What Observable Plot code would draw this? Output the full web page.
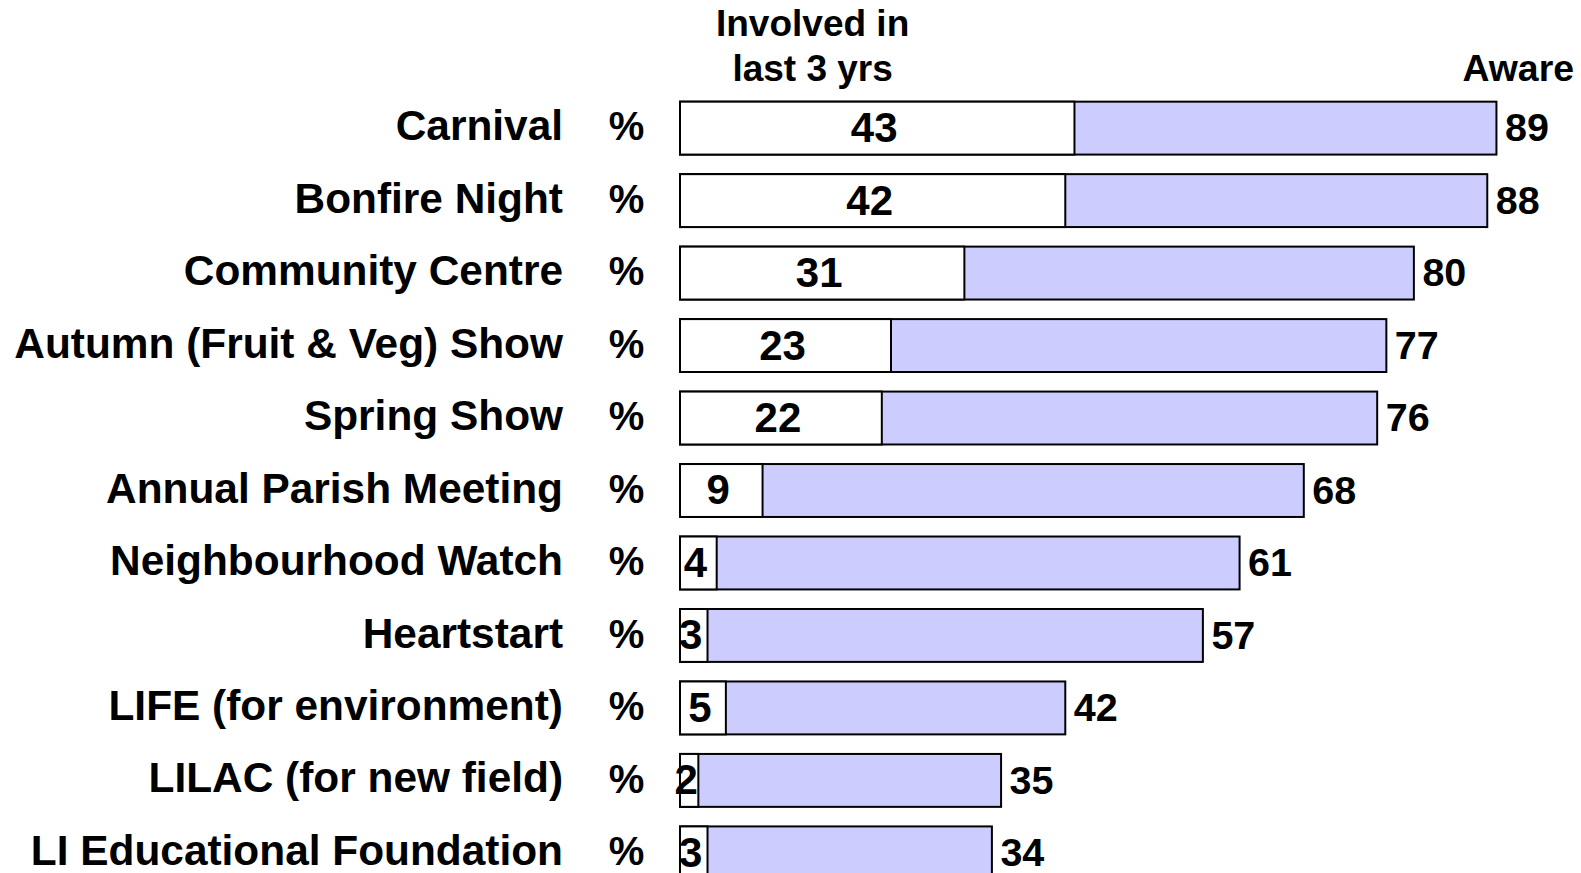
<!DOCTYPE html>
<html>
<head>
<meta charset="utf-8">
<script src="https://cdn.jsdelivr.net/npm/d3@7"></script>
<script src="https://cdn.jsdelivr.net/npm/@observablehq/plot@0.6"></script>
<style>
  html, body { margin: 0; padding: 0; background: #fff; overflow: hidden; }
  #chart svg { overflow: visible; }
  #chart svg, #chart svg text { font-family: "Liberation Sans", Arial, Helvetica, sans-serif !important; }
</style>
</head>
<body>
<div id="chart"></div>
<script>
const categories = [
  "Carnival",
  "Bonfire Night",
  "Community Centre",
  "Autumn (Fruit & Veg) Show",
  "Spring Show",
  "Annual Parish Meeting",
  "Neighbourhood Watch",
  "Heartstart",
  "LIFE (for environment)",
  "LILAC (for new field)",
  "LI Educational Foundation"
];
const involved = [43, 42, 31, 23, 22, 9, 4, 3, 5, 2, 3];
const aware = [89, 88, 80, 77, 76, 68, 61, 57, 42, 35, 34];
const headerInvolved = "Involved in\nlast 3 yrs";
const headerAware = "Aware";

const rows = categories.map((c, i) => ({cat: c, involved: involved[i], aware: aware[i]}));
const font = "Liberation Sans, Arial, Helvetica, sans-serif";

const chart = Plot.plot({
  width: 1581,
  height: 873,
  marginLeft: 680,
  marginRight: 2,
  marginTop: 0,
  marginBottom: 0,
  style: {fontFamily: font, background: "#ffffff", color: "#000"},
  x: {domain: [0, 98], axis: null},
  y: {domain: categories, range: [82.1, 898.9], padding: 0.27, round: false, axis: null},
  marks: [
    Plot.barX(rows, {y: "cat", x1: 0, x2: "aware", fill: "#ccccff", stroke: "#000", strokeWidth: 2}),
    Plot.barX(rows, {y: "cat", x1: 0, x2: "involved", fill: "#ffffff", stroke: "#000", strokeWidth: 2}),
    Plot.text(rows, {y: "cat", text: "cat", frameAnchor: "left", dx: -117.5, dy: -2, textAnchor: "end", fontFamily: font, fontSize: 42.4, fontWeight: "bold", fill: "#000"}),
    Plot.text(rows, {y: "cat", text: () => "%", frameAnchor: "left", dx: -54, dy: -1, textAnchor: "middle", fontFamily: font, fontSize: 40, fontWeight: "bold", fill: "#000"}),
    Plot.text(rows, {y: "cat", x: d => d.involved / 2, text: d => String(d.involved), textAnchor: "middle", dx: -3.5, fontFamily: font, fontSize: 42, fontWeight: "bold", fill: "#000"}),
    Plot.text(rows, {y: "cat", x: "aware", text: d => String(d.aware), textAnchor: "start", dx: 8, fontFamily: font, fontSize: 39.5, fontWeight: "bold", fill: "#000"}),
    Plot.text([headerInvolved], {x: 14.4, text: d => d, frameAnchor: "top", lineAnchor: "middle", dy: 43.5, lineHeight: 1.23, textAnchor: "middle", fontFamily: font, fontSize: 37, fontWeight: "bold", fill: "#000"}),
    Plot.text([headerAware], {x: 97.4, text: d => d, frameAnchor: "top", lineAnchor: "middle", dy: 68.5, textAnchor: "end", fontFamily: font, fontSize: 37.4, fontWeight: "bold", fill: "#000"})
  ]
});
document.getElementById("chart").appendChild(chart);
</script>
</body>
</html>
